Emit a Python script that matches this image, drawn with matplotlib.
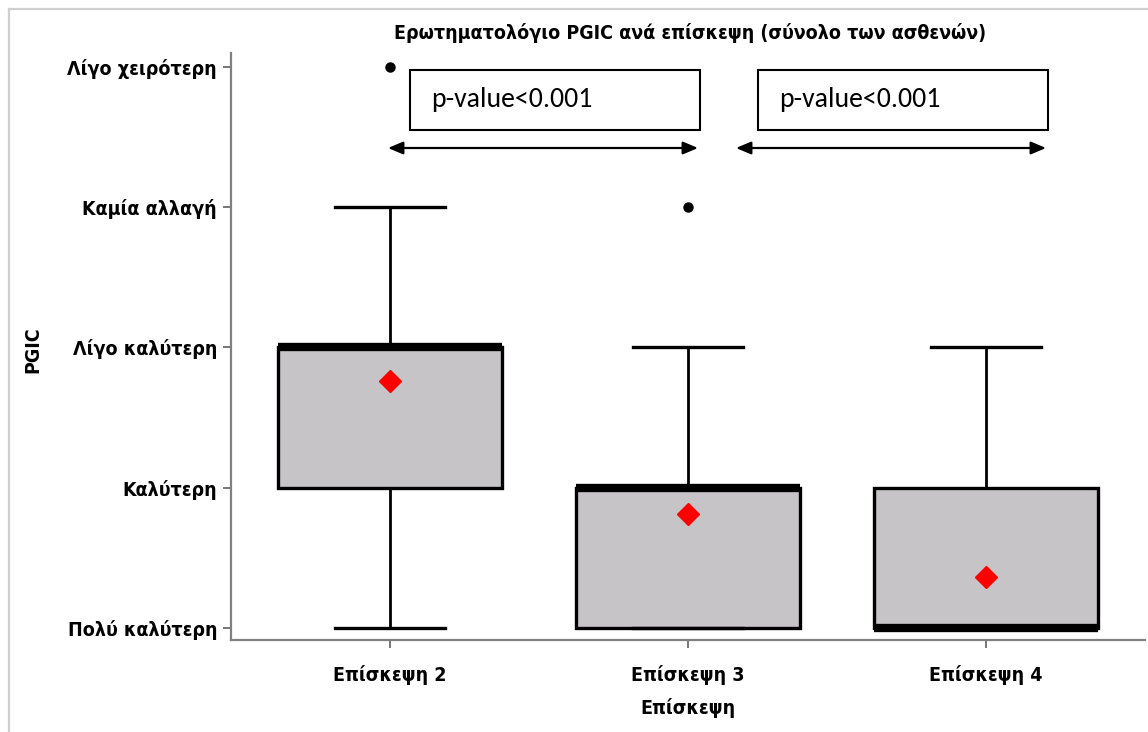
import matplotlib
matplotlib.use("Agg")
import matplotlib.pyplot as plt
from matplotlib import font_manager
from matplotlib.patches import Rectangle
from matplotlib.lines import Line2D

# ---- data ----
visits = ["Επίσκεψη 2", "Επίσκεψη 3", "Επίσκεψη 4"]
levels = ["Πολύ καλύτερη", "Καλύτερη", "Λίγο καλύτερη", "Καμία αλλαγή", "Λίγο χειρότερη"]
level_values = [1, 2, 3, 4, 5]
q1 = [2, 1, 1]
median = [3, 2, 1]
q3 = [3, 2, 2]
whisker_low = [1, 1, 1]
whisker_high = [4, 3, 3]
means = [2.76, 1.81, 1.36]
outliers = [[5], [4], []]
pvalue_texts = ["p-value<0.001", "p-value<0.001"]

title = "Ερωτηματολόγιο PGIC ανά επίσκεψη (σύνολο των ασθενών)"
xlabel = "Επίσκεψη"
ylabel = "PGIC"

# ---- fonts ----
available = {f.name for f in font_manager.fontManager.ttflist}
if "Liberation Sans Narrow" in available:
    main_font = dict(family="Liberation Sans Narrow", weight="bold")
else:
    main_font = dict(family="DejaVu Sans", stretch="condensed", weight="bold")
pv_family = "Carlito" if "Carlito" in available else ("Lato" if "Lato" in available else "DejaVu Sans")

W, H = 1148, 732
fig = plt.figure(figsize=(W / 100, H / 100), dpi=100)

def fx(px):
    return px / W

def fy(py):
    return 1 - py / H

ax_left, ax_right, ax_top, ax_bottom = 231, 1145, 53, 640
ax = fig.add_axes([fx(ax_left), fy(ax_bottom), fx(ax_right) - fx(ax_left), fy(ax_top) - fy(ax_bottom)])

positions = list(range(1, len(visits) + 1))
stats = []
for i in range(len(visits)):
    stats.append(dict(label=visits[i], q1=q1[i], med=median[i], q3=q3[i],
                      whislo=whisker_low[i], whishi=whisker_high[i],
                      mean=means[i], fliers=outliers[i]))

box_color = "#c6c4c7"
ax.bxp(stats, positions=positions, widths=0.752, patch_artist=True,
       showmeans=True, showfliers=True, capwidths=0.37,
       boxprops=dict(facecolor=box_color, edgecolor="black", linewidth=2.4),
       medianprops=dict(color="black", linewidth=6.0, solid_capstyle="butt"),
       whiskerprops=dict(color="black", linewidth=2.0),
       capprops=dict(color="black", linewidth=2.4),
       meanprops=dict(marker="D", markerfacecolor="red", markeredgecolor="red", markersize=11),
       flierprops=dict(marker="o", markerfacecolor="black", markeredgecolor="black", markersize=6.5))

ax.set_xlim(0.466, 3.534)
ax.set_ylim(0.914, 5.1)
ax.set_yticks(level_values)
ax.set_yticklabels(levels, fontsize=14, **main_font)
ax.set_xticks(positions)
ax.set_xticklabels(visits, fontsize=14, **main_font)

for s in ["top", "right"]:
    ax.spines[s].set_visible(False)
for s in ["left", "bottom"]:
    ax.spines[s].set_color("#808080")
    ax.spines[s].set_linewidth(1.6)
ax.tick_params(axis="both", direction="out", length=6, width=1.2, color="#606060", labelcolor="black")
ax.tick_params(axis="y", pad=4)
ax.tick_params(axis="x", pad=12)

fig.text(fx(690), fy(33), title, ha="center", va="center", fontsize=14, **main_font)
fig.text(fx(688), fy(708), xlabel, ha="center", va="center", fontsize=14, **main_font)
fig.text(fx(33), fy(350), ylabel, ha="center", va="center", rotation=90, fontsize=14, **main_font)

# p-value boxes and arrows (annotation layer)
box_px = [(410, 70, 700, 130), (758, 70, 1048, 130)]
for (x0, y0, x1, y1), txt in zip(box_px, pvalue_texts):
    fig.patches.append(Rectangle((fx(x0), fy(y1)), fx(x1) - fx(x0), fy(y0) - fy(y1),
                                 transform=fig.transFigure, facecolor="white",
                                 edgecolor="black", linewidth=1.5))
    fig.text(fx(x0 + 21), fy((y0 + y1) / 2), txt, ha="left", va="center",
             fontsize=20, family=pv_family, color="black")

arrow_px = [(388, 698, 148), (736, 1046, 148)]
for xa, xb, ya in arrow_px:
    ax.annotate("", xy=(fx(xb), fy(ya)), xytext=(fx(xa), fy(ya)),
                xycoords="figure fraction", textcoords="figure fraction",
                arrowprops=dict(arrowstyle="<|-|>,head_length=0.9,head_width=0.38",
                                color="black", lw=1.6, shrinkA=0, shrinkB=0))

# outer frame (top and left edges)
fig.add_artist(Line2D([fx(8.5), 1], [fy(8.5), fy(8.5)], transform=fig.transFigure, color="#cfcfcf", lw=1.6))
fig.add_artist(Line2D([fx(8.5), fx(8.5)], [0, fy(8.5)], transform=fig.transFigure, color="#cfcfcf", lw=1.6))

fig.savefig("out.png", dpi=100, facecolor="white")
